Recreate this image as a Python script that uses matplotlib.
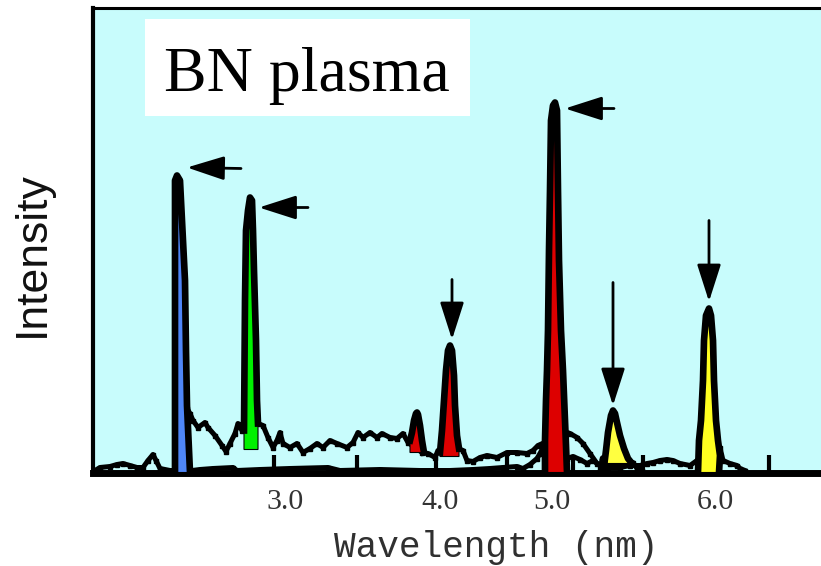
import matplotlib.pyplot as plt
from matplotlib.patches import Rectangle
from matplotlib.ticker import FixedLocator
import numpy as np

# Spectrum: channel number vs intensity (a.u.)
# The wavelength calibration of the channel axis is not linear.
tick_channels = [192, 347, 459, 622]
tick_labels = ["3.0", "4.0", "5.0", "6.0"]
marker_channels = [92, 181, 264, 343, 414, 480, 550, 676]

# lower (background) trace
low_x = [2, 7, 17, 24, 30, 37, 44, 50, 55, 60, 63, 67, 77, 99, 107, 120, 140, 144,
         167, 197, 235, 247, 287, 327, 357, 380, 397, 410, 424, 430, 437, 444, 447,
         450, 474, 480, 487, 494, 500, 507, 512, 515, 527, 537, 547, 554, 560, 567,
         574, 580, 587, 597, 604, 627, 630, 637, 644, 647, 652]
low_y = [2, 5, 6, 8, 9, 7, 5, 5, 12, 18, 12, 4, 2, 2, 3, 4, 5, 2,
         3, 4, 5, 2, 3, 2, 2, 3, 4, 5, 6, 4, 8, 14, 19,
         25, 14, 16, 13, 9, 12, 7, 14, 5, 5, 7, 7, 9, 10, 12,
         13, 12, 9, 7, 12, 25, 12, 9, 7, 4, 2]

# upper trace
up_x = [94, 97, 100, 105, 112, 115, 122, 129, 133, 137, 142, 145, 149, 165, 170,
        175, 180, 184, 187, 190, 197, 204, 210, 217, 224, 230, 237, 244, 254, 260,
        265, 270, 277, 284, 289, 297, 304, 310, 315, 329, 335, 342, 345, 365, 370,
        374, 380, 387, 394, 404, 414, 424, 434, 440, 445, 474, 477, 484, 490, 497,
        504, 509, 540, 544, 549]
up_y = [64, 59, 52, 45, 50, 45, 37, 27, 21, 29, 39, 49, 42, 49, 47,
        35, 25, 32, 40, 29, 25, 29, 20, 24, 29, 25, 32, 29, 25, 30,
        40, 35, 40, 35, 39, 35, 34, 39, 30, 20, 19, 15, 22, 24, 22,
        12, 11, 15, 17, 15, 20, 20, 19, 22, 27, 40, 39, 35, 29, 19,
        9, 6, 10, 4, 2]

# emission lines
blue_x = [82, 82, 84, 87, 90, 92, 93, 94, 97]
blue_y = [0, 292, 297, 292, 232, 192, 122, 67, 0]

green_x = [151, 152, 153, 155, 157, 159, 160, 161, 163, 164, 165]
green_y = [42, 172, 242, 262, 275, 272, 242, 202, 132, 72, 49]

red1_x = [317, 319, 321, 323, 324, 325, 327, 329, 331]
red1_y = [32, 40, 52, 59, 60, 58, 47, 32, 20]

red2_x = [347, 349, 351, 353, 355, 357, 359, 361, 362, 364, 366]
red2_y = [20, 42, 72, 102, 122, 127, 122, 97, 67, 37, 24]

red3_x = [452, 452, 453, 454, 455, 456, 457, 458, 460, 462, 464, 465, 466, 468,
          470, 472, 473, 474]
red3_y = [0, 32, 72, 102, 142, 222, 282, 352, 367, 370, 362, 282, 212, 142,
          102, 52, 27, 0]

yellow1_x = [511, 513, 515, 518, 520, 522, 524, 527, 531, 535, 539]
yellow1_y = [6, 22, 40, 57, 62, 59, 50, 37, 24, 14, 9]

yellow0_x = [508, 510, 513]
yellow0_y = [2, 14, 2]

yellow2_x = [605, 606, 608, 610, 611, 613, 616, 618, 620, 621, 623, 625, 627, 626]
yellow2_y = [0, 32, 52, 92, 132, 157, 164, 157, 132, 92, 52, 32, 17, 0]

peaks = [
    (blue_x, blue_y, 0, "#4f86f7"),
    (green_x, green_y, 23, "#00f000"),
    (red1_x, red1_y, 20, "#dd0000"),
    (red2_x, red2_y, 16, "#dd0000"),
    (red3_x, red3_y, 0, "#dd0000"),
    (yellow0_x, yellow0_y, 0, "#ffff30"),
    (yellow1_x, yellow1_y, 9, "#ffff40"),
    (yellow2_x, yellow2_y, 0, "#ffff20"),
]

# arrows: (tail, tip)
arrows = [
    ((148, 304), (94, 305)),
    ((215, 265), (166, 265)),
    ((521, 364), (472, 364)),
    ((359, 193), (359, 133)),
    ((520, 190), (520, 67)),
    ((616, 252), (616, 171)),
]

fig = plt.figure(figsize=(8.21, 5.66), dpi=100)
ax = fig.add_axes([93 / 821, 93.5 / 566, 728 / 821, 464.5 / 566])
ax.set_facecolor("#c8fcfc")

# noisy traces, drawn with small square dots to get the rough look
for tx, ty in [(low_x, low_y), (up_x, up_y)]:
    ax.plot(tx, ty, color="black", lw=3.6, marker="s", ms=3.5, zorder=2)

for px, py, base, color in peaks:
    fx = np.r_[px[0], px, px[-1]]
    fy = np.r_[base, py, base]
    ax.fill(fx, fy, facecolor=color, edgecolor="black", lw=0.8, zorder=3)
    ax.plot(px, py, color="black", lw=4.8, solid_joinstyle="round", zorder=4)

for tail, tip in arrows:
    ax.annotate("", xy=tip, xytext=tail,
                arrowprops=dict(arrowstyle="-|>,head_length=1.0,head_width=0.32",
                                mutation_scale=23, lw=2, color="black",
                                shrinkA=0, shrinkB=0), zorder=5)

ax.set_xlim(0, 728)
ax.set_ylim(0, 464.5)
ax.set_yticks([])
ax.set_xticks(tick_channels)
ax.set_xticklabels(tick_labels, family="Liberation Serif", fontsize=21.5, color="#333333")
ax.xaxis.set_minor_locator(FixedLocator(marker_channels))
ax.tick_params(axis="x", which="major", length=0, pad=12)
ax.tick_params(axis="x", which="minor", direction="in", length=13, width=3, color="black")

ax.spines["right"].set_visible(False)
ax.spines["bottom"].set_linewidth(5)
ax.spines["left"].set_linewidth(3)
ax.spines["top"].set_linewidth(2.2)

# title box
ax.add_patch(Rectangle((0.0714, 0.7675), 0.4464, 0.2088, transform=ax.transAxes,
                       facecolor="white", edgecolor="none", zorder=6))
ax.text(0.294, 0.8213, "BN plasma", transform=ax.transAxes, ha="center", va="baseline",
        family="Liberation Serif", fontsize=46, zorder=7)

fig.text(496.5 / 821, 9 / 566, "Wavelength (nm)", ha="center", va="baseline",
         family="Liberation Mono", fontsize=26, color="#303030")
fig.text(32.5 / 821, 1 - 254.5 / 566, "Intensity", rotation=90, ha="center", va="center",
         family="Liberation Sans", fontsize=32, color="#111111")

plt.savefig("out.png", dpi=100)
plt.close()
